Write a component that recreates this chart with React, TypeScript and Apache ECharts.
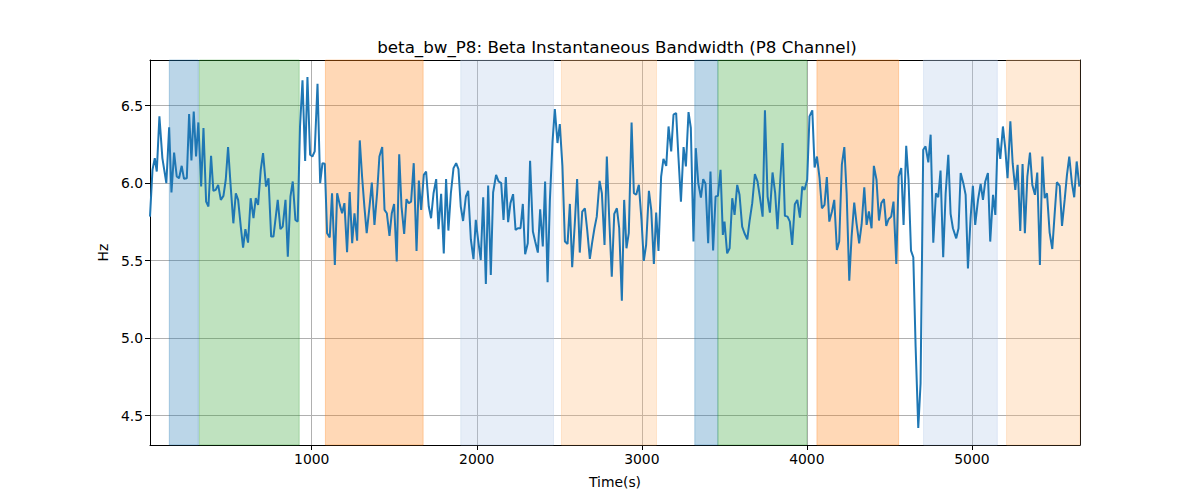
import React, { useEffect, useRef } from "react";
import * as echarts from "echarts";

const titleText = "beta_bw_P8: Beta Instantaneous Bandwidth (P8 Channel)";

const times: number[] = [
  20, 35, 49, 61, 77, 95, 119, 136, 150, 166, 182, 196, 212, 226, 243, 257, 271, 285, 299, 313,
  330, 344, 360, 374, 390, 404, 418, 433, 449, 465, 479, 493, 509, 525, 540, 554, 570, 584, 598, 614,
  630, 647, 661, 675, 691, 705,
  723, 738, 754, 768, 794, 810, 824, 841, 855, 871, 885, 901, 915, 929, 944, 960, 974, 990, 1004, 1018,
  1035, 1051, 1065, 1079, 1093, 1109, 1123, 1140, 1154, 1170, 1184, 1198, 1214, 1230, 1245, 1259, 1275, 1291, 1305, 1319,
  1333, 1350, 1364, 1380, 1396,
  1410, 1427, 1441, 1455, 1471, 1485, 1499, 1515, 1530, 1544, 1560, 1574, 1588, 1602, 1618, 1635, 1649, 1663, 1679, 1693,
  1709, 1723, 1738, 1754, 1768, 1784, 1800, 1814, 1828, 1843, 1859, 1875, 1889, 1903, 1917, 1934, 1948, 1964, 1980, 1994,
  2008, 2024, 2039, 2055, 2069, 2085, 2099,
  2117, 2132, 2148, 2162, 2176, 2190, 2204, 2220, 2235, 2249, 2265, 2279, 2293, 2309, 2323, 2340, 2354, 2370, 2384, 2400,
  2414, 2429, 2443, 2459, 2473, 2489, 2503, 2519, 2534, 2550, 2564, 2578, 2594, 2608, 2624, 2639, 2655, 2669, 2685, 2699,
  2713, 2727, 2744, 2758, 2774, 2788, 2802,
  2818, 2833, 2849, 2863, 2879, 2893, 2907, 2921, 2938, 2952, 2966, 2982, 2998, 3012, 3026, 3043, 3057, 3073, 3087, 3101,
  3117, 3131, 3148, 3162, 3178, 3192, 3208, 3222, 3237, 3253, 3267, 3283, 3297, 3313, 3327, 3342, 3358, 3372, 3386, 3402,
  3416, 3432, 3447, 3461, 3477, 3491,
  3501, 3517, 3532, 3548, 3562, 3578, 3592, 3608, 3622, 3639, 3653, 3669, 3685, 3701, 3715, 3732, 3746, 3762, 3776, 3792,
  3808, 3822, 3839, 3853, 3867, 3883, 3897, 3911, 3927, 3942, 3958, 3972, 3986, 4002, 4016, 4033, 4047, 4061, 4077, 4091,
  4107, 4121, 4136, 4152, 4166, 4182, 4196,
  4212, 4227, 4241, 4257, 4271, 4287, 4301, 4317, 4332, 4348, 4362, 4376, 4392, 4406, 4422, 4437, 4451, 4467, 4481, 4495,
  4511, 4525, 4542, 4556, 4572, 4586, 4602, 4616, 4631, 4645, 4659, 4675, 4689, 4705, 4719, 4736, 4750, 4766, 4782, 4796,
  4810, 4826, 4841, 4857, 4871, 4885,
  4905, 4919, 4932, 4948, 4962, 4976, 4992, 5006, 5020, 5037, 5053, 5067, 5081, 5097, 5111, 5128, 5142, 5156, 5172, 5188,
  5202, 5216, 5233, 5247, 5263, 5277, 5293, 5307, 5321, 5336, 5352, 5366, 5382, 5396, 5412, 5427, 5441, 5455, 5471, 5487,
  5501, 5515, 5532, 5546, 5562, 5576, 5590, 5606, 5620, 5635, 5651,
];

const hz: number[] = [
  5.784, 6.086, 6.162, 6.075, 6.431, 6.162, 6.0, 6.36, 5.94, 6.198, 6.043, 6.032, 6.112, 6.028, 6.032, 6.446, 6.147, 6.463, 6.172, 6.392,
  5.978, 6.356, 5.881, 5.849, 6.177, 5.95, 5.957, 5.989, 5.892, 5.918, 6.022, 6.233, 5.978, 5.741, 5.935, 5.892, 5.72, 5.584, 5.703, 5.616,
  5.903, 5.774, 5.903, 5.86, 6.086, 6.194,
  5.978, 6.032, 5.655, 5.655, 5.892, 5.703, 5.72, 5.892, 5.526, 5.914, 6.011, 5.763, 5.752, 6.366, 6.664, 6.144, 6.685, 6.183, 6.172, 6.205,
  6.642, 6.0, 6.129, 6.125, 5.677, 5.649, 5.935, 5.472, 5.935, 5.86, 5.806, 5.871, 5.554, 5.942, 5.612, 5.806, 5.629, 6.276, 6.043, 5.849,
  5.677, 5.849, 6.004, 5.731, 5.935,
  6.172, 6.233, 5.828, 5.806, 5.659, 5.806, 5.866, 5.494, 6.187, 5.849, 5.672, 5.897, 5.871, 5.881, 6.129, 5.563, 6.017, 5.828, 6.054, 6.075,
  5.849, 5.774, 5.935, 6.026, 5.703, 5.931, 5.547, 6.026, 5.694, 5.935, 6.097, 6.129, 6.091, 5.849, 5.756, 5.914, 5.95, 5.638, 5.509, 5.763,
  5.634, 5.504, 5.909, 5.349, 5.985, 5.407, 5.94,
  6.054, 6.011, 6.0, 5.763, 6.039, 5.748, 5.871, 5.929, 5.698, 5.709, 5.709, 5.866, 5.541, 5.612, 6.144, 5.688, 5.623, 5.552, 5.832, 5.591,
  6.011, 5.36, 5.892, 6.269, 6.478, 6.259, 6.381, 6.108, 5.623, 5.608, 5.866, 5.457, 5.741, 6.026, 5.552, 5.817, 5.838, 5.698, 5.511, 5.616,
  5.709, 5.784, 6.015, 5.935, 5.601, 6.172, 5.784,
  5.397, 5.802, 5.838, 5.709, 5.241, 5.892, 5.58, 5.677, 6.392, 5.935, 5.925, 5.989, 5.763, 5.498, 5.601, 5.95, 5.828, 5.478, 5.81, 5.563,
  6.043, 6.157, 6.112, 6.366, 6.205, 6.442, 6.453, 6.166, 5.881, 6.233, 6.108, 6.459, 6.356, 5.623, 6.226, 6.0, 5.907, 6.026, 5.996, 5.612,
  6.075, 5.565, 5.914, 5.918, 6.086, 5.666,
  5.752, 5.547, 5.58, 5.903, 5.795, 5.989, 5.925, 5.72, 5.677, 5.638, 5.756, 5.871, 6.058, 6.011, 5.914, 5.784, 6.47, 5.914, 5.81, 6.069,
  5.935, 5.703, 6.022, 6.259, 5.789, 5.784, 5.752, 5.601, 5.864, 5.892, 5.778, 5.978, 5.957, 6.022, 6.431, 6.47, 6.101, 6.172, 6.032, 5.838,
  5.86, 6.039, 5.752, 5.817, 5.892, 5.569, 5.623,
  6.119, 6.233, 5.935, 5.371, 5.655, 5.875, 5.741, 5.612, 5.735, 5.974, 5.731, 5.817, 5.709, 6.112, 6.022, 5.759, 5.871, 5.897, 5.724, 5.767,
  5.784, 5.881, 5.478, 6.043, 6.097, 5.731, 6.241, 6.022, 5.565, 5.522, 4.944, 4.42, 4.707, 6.216, 6.237, 6.134, 6.313, 5.616, 5.935, 5.909,
  6.082, 5.522, 5.935, 6.183, 5.802, 5.709,
  5.644, 5.709, 6.065, 6.0, 5.925, 5.45, 5.774, 5.983, 5.731, 5.892, 5.996, 5.892, 6.011, 6.065, 5.623, 5.925, 5.795, 6.291, 6.157, 6.366,
  6.226, 6.032, 6.399, 6.129, 5.957, 6.119, 5.692, 6.123, 5.677, 6.043, 6.198, 5.989, 5.925, 6.069, 5.472, 6.172, 5.903, 5.935, 5.681, 5.575,
  5.795, 6.006, 5.983, 5.724, 5.892, 6.054, 6.172, 6.0, 5.909, 6.14, 5.978,
];

// shaded intervals: [start, end, kind]
const bands: [number, number, string][] = [
  [137, 313, "blue"],
  [319, 924, "green"],
  [1083, 1675, "orange"],
  [1903, 2465, "lightblue"],
  [2513, 3089, "lightorange"],
  [3321, 3461, "blue"],
  [3461, 4000, "green"],
  [4061, 4556, "orange"],
  [4707, 5154, "lightblue"],
  [5210, 5655, "lightorange"],
];

const xTicks = [1000, 2000, 3000, 4000, 5000];
const xTickLabels = ["1000", "2000", "3000", "4000", "5000"];
const yTicks = [4.5, 5.0, 5.5, 6.0, 6.5];
const yTickLabels = ["4.5", "5.0", "5.5", "6.0", "6.5"];
const xRange = [20, 5655];
const yRange = [4.31, 6.795];

const bandColor: Record<string, string> = {
  blue: "rgba(31,119,180,0.3)",
  green: "rgba(44,160,44,0.3)",
  orange: "rgba(255,127,14,0.3)",
  lightblue: "rgba(174,199,232,0.3)",
  lightorange: "rgba(255,187,120,0.3)",
};

const FONT = "DejaVu Sans";

export default function App() {
  const ref = useRef<HTMLDivElement>(null);
  useEffect(() => {
    if (!ref.current) return;
    const chart = echarts.init(ref.current, null, { renderer: "svg" });
    const data = times.map((t, i) => [t, hz[i]]);
    const tickLabelStyle = { color: "#000", fontSize: 13.9, fontFamily: FONT };
    chart.setOption({
      animation: false,
      backgroundColor: "#fff",
      title: {
        text: titleText,
        left: 612,
        textAlign: "center",
        top: 33,
        textStyle: { fontFamily: FONT, fontSize: 16.7, fontWeight: "normal", color: "#000" },
      },
      grid: { left: 150, right: 120, top: 60, bottom: 55, containLabel: false },
      xAxis: [
        {
          type: "value",
          min: xRange[0],
          max: xRange[1],
          position: "bottom",
          name: "Time(s)",
          nameLocation: "middle",
          nameGap: 30,
          nameTextStyle: { ...tickLabelStyle },
          axisLine: { show: true, onZero: false, lineStyle: { color: "#000", width: 1 } },
          axisTick: { show: true, length: 5, lineStyle: { color: "#000", width: 1 }, customValues: xTicks },
          axisLabel: {
            ...tickLabelStyle,
            margin: 7,
            customValues: xTicks,
            formatter: (v: number) => xTickLabels[xTicks.indexOf(v)] ?? String(v),
          },
          splitLine: { show: true, lineStyle: { color: "#b0b0b0", width: 1 } },
        },
        {
          type: "value",
          min: xRange[0],
          max: xRange[1],
          position: "top",
          axisLine: { show: true, onZero: false, lineStyle: { color: "#000", width: 1 } },
          axisTick: { show: false },
          axisLabel: { show: false },
          splitLine: { show: false },
        },
      ],
      yAxis: [
        {
          type: "value",
          min: yRange[0],
          max: yRange[1],
          position: "left",
          name: "Hz",
          nameLocation: "middle",
          nameGap: 38,
          nameTextStyle: { ...tickLabelStyle },
          axisLine: { show: true, onZero: false, lineStyle: { color: "#000", width: 1 } },
          axisTick: { show: true, length: 5, lineStyle: { color: "#000", width: 1 }, customValues: yTicks },
          axisLabel: {
            ...tickLabelStyle,
            margin: 7,
            customValues: yTicks,
            formatter: (v: number) => yTickLabels[yTicks.indexOf(v)] ?? v.toFixed(1),
          },
          splitLine: { show: true, lineStyle: { color: "#b0b0b0", width: 1 } },
        },
        {
          type: "value",
          min: yRange[0],
          max: yRange[1],
          position: "right",
          axisLine: { show: true, onZero: false, lineStyle: { color: "#000", width: 1 } },
          axisTick: { show: false },
          axisLabel: { show: false },
          splitLine: { show: false },
        },
      ],
      series: [
        {
          type: "line",
          data: [],
          z: 1,
          silent: true,
          markArea: {
            silent: true,
            data: bands.map(([s, e, k]) => [
              { xAxis: s, itemStyle: { color: bandColor[k], borderColor: bandColor[k], borderWidth: 1 } },
              { xAxis: e },
            ]),
          },
        },
        {
          type: "line",
          data,
          z: 3,
          showSymbol: false,
          symbol: "none",
          lineStyle: { color: "#1f77b4", width: 2 },
          itemStyle: { color: "#1f77b4" },
        },
      ],
    });
    return () => chart.dispose();
  }, []);
  return (
    <div
      ref={ref}
      style={{ position: "fixed", left: 0, top: 0, width: 1200, height: 500, background: "#fff" }}
    />
  );
}
